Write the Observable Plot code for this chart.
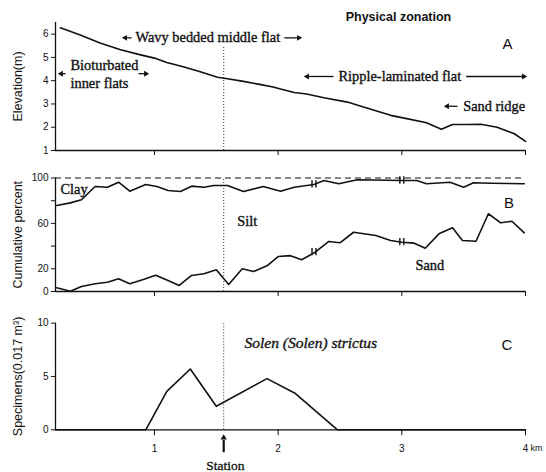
<!DOCTYPE html>
<html>
<head>
<meta charset="utf-8">
<script src="https://cdn.jsdelivr.net/npm/d3@7"></script>
<script src="https://cdn.jsdelivr.net/npm/@observablehq/plot@0.6"></script>
<style>
  body { margin: 0; background: #fff; }
  #fig { position: relative; width: 546px; height: 472px; overflow: hidden; background: #fff; }
  #fig svg { position: absolute; left: 0; }
</style>
</head>
<body>
<div id="fig"></div>
<script>
// Transect distance (km) and beach elevation (m)
const elevKm = [0.24, 0.40, 0.56, 0.72, 0.88, 1.00, 1.10, 1.24, 1.37, 1.51, 1.59, 1.72, 1.86, 1.96, 2.02,
                2.13, 2.23, 2.37, 2.56, 2.69, 2.91, 3.04, 3.20, 3.32, 3.41, 3.53, 3.64, 3.77, 3.91, 4.00];
const elevM  = [6.27, 5.96, 5.62, 5.34, 5.12, 4.97, 4.78, 4.59, 4.38, 4.15, 4.08, 3.97, 3.83, 3.73, 3.64,
                3.49, 3.43, 3.27, 3.08, 2.87, 2.51, 2.37, 2.19, 1.91, 2.12, 2.12, 2.13, 2.00, 1.72, 1.39];

// Cumulative grain size: upper curve separates clay from silt
const clayKm  = [0.21, 0.32, 0.41, 0.52, 0.62, 0.71, 0.80, 0.93, 1.02, 1.11, 1.21, 1.30, 1.40, 1.48, 1.59, 1.72,
                 1.88, 2.02, 2.13, 2.29, 2.37, 2.49, 2.64, 3.00, 3.12, 3.20, 3.39, 3.50, 3.58, 3.72, 3.99];
const clayPct = [75.8, 78.1, 80.8, 92.5, 91.9, 96.3, 88.4, 94.3, 92.5, 89.0, 88.1, 92.8, 91.9, 93.4, 93.4, 88.1,
                 92.5, 88.4, 91.9, 94.3, 97.8, 94.9, 98.4, 97.8, 97.8, 94.9, 96.3, 91.9, 95.8, 95.4, 94.9];

// lower curve separates silt from sand
const sandKm  = [0.21, 0.32, 0.41, 0.52, 0.62, 0.71, 0.80, 0.91, 1.01, 1.11, 1.20, 1.30, 1.40, 1.50, 1.60, 1.71,
                 1.80, 1.91, 2.00, 2.10, 2.19, 2.30, 2.41, 2.50, 2.61, 2.79, 2.91, 3.00, 3.10, 3.19, 3.30, 3.41,
                 3.49, 3.60, 3.70, 3.80, 3.89, 3.99];
const sandPct = [3.3, 0.3, 4.4, 6.8, 8.2, 11.2, 6.8, 10.6, 14.4, 9.7, 5.3, 14.1, 15.6, 19.1, 6.2, 20.0,
                 17.6, 22.6, 30.8, 31.6, 28.0, 34.6, 44.1, 42.9, 52.2, 49.3, 44.9, 43.4, 42.6, 38.1, 50.8, 56.1,
                 44.9, 44.3, 68.5, 60.5, 61.9, 51.7];

// Sampling breaks marked on both grain-size curves
const breakKm    = [2.29, 3.00];
const breakUpper = [94.3, 97.8];
const breakLower = [34.6, 43.4];

// Solen (Solen) strictus, specimens per 0.017 m2
const solenKm = [0.20, 0.93, 1.10, 1.29, 1.50, 1.91, 2.14, 2.48, 4.00];
const solenN  = [0, 0, 3.6, 5.7, 2.2, 4.8, 3.4, 0, 0];

const stationKm = 1.56;

// Tick values
const xTicks = [1, 2, 3, 4];
const elevTicks = [1, 2, 3, 4, 5, 6];
const pctTicks = [0, 20, 40, 60, 80, 100];
const pctLabels = [0, 20, 60, 100];
const specTicks = [0, 5, 10];

const W = 546, ML = 55, MR = 21;
const X0 = 0.2, X1 = 4;
const serif = "Liberation Serif, DejaVu Serif, serif";
const sans = "Liberation Sans, Arial, sans-serif";
const baseStyle = {fontFamily: sans, fontSize: "10px", background: "transparent", overflow: "visible", color: "#111"};
const ink = "#111";
const serifText = {fontFamily: serif, fontSize: 14.4, fill: ink, stroke: ink, strokeWidth: 0.35};

const rows = (xs, ys) => xs.map((x, i) => ({x, y: ys[i]}));

// horizontal arrows: stem from `from` to `tip`, filled head at the tip
function arrows(list) {
  return [
    Plot.link(list, {x1: "from", x2: d => d.tip - Math.sign(d.tip - d.from) * 0.03, y1: "y", y2: "y", stroke: ink, strokeWidth: 1.3}),
    Plot.dot(list, {x: d => d.tip - Math.sign(d.tip - d.from) * 0.03, y: "y", symbol: "triangle2", r: 2.8,
                    rotate: d => d.tip > d.from ? 90 : -90, fill: ink, stroke: "none"})
  ];
}

// rotated y-axis title, centred on the left edge of the frame
const yTitle = (t) => Plot.text([t], {frameAnchor: "left", textAnchor: "middle", dx: -38, rotate: -90,
                                      fontFamily: sans, fontSize: 12.5, fill: ink});

const fig = document.getElementById("fig");
function place(svg, top) { svg.style.top = top + "px"; fig.appendChild(svg); }

// ---- A: physical zonation / elevation profile
const plotA = Plot.plot({
  width: W, height: 160, marginLeft: ML, marginRight: MR, marginTop: 22, marginBottom: 10,
  style: baseStyle,
  x: {domain: [X0, X1], ticks: xTicks, tickFormat: () => "", tickSize: 5, label: null},
  y: {domain: [1, 6.5], ticks: elevTicks, tickFormat: d => d, tickSize: 4, tickPadding: 3, label: null},
  marks: [
    Plot.ruleY([1], {stroke: ink, strokeWidth: 1.3}),
    Plot.ruleX([X0], {y1: 1, y2: 6.5, stroke: ink, strokeWidth: 1.3}),
    Plot.ruleX([stationKm], {y1: 1, y2: 5.48, stroke: "#333", strokeDasharray: "1,2"}),
    Plot.line(rows(elevKm, elevM), {x: "x", y: "y", stroke: ink, strokeWidth: 1.6}),
    yTitle("Elevation(m)"),
    Plot.text(["Physical zonation"], {x: 2.973, y: 6.72, fontFamily: sans, fontWeight: "bold", fontSize: 12.5, fill: ink}),
    Plot.text(["A"], {x: 3.855, y: 5.58, fontFamily: sans, fontSize: 15, fill: ink}),
    Plot.text(["Wavy bedded middle flat"], {x: 0.847, y: 5.84, textAnchor: "start", ...serifText}),
    Plot.text(["Bioturbated"], {x: 0.321, y: 4.65, textAnchor: "start", ...serifText}),
    Plot.text(["inner flats"], {x: 0.321, y: 3.87, textAnchor: "start", ...serifText}),
    Plot.text(["Ripple-laminated flat"], {x: 2.488, y: 4.18, textAnchor: "start", ...serifText}),
    Plot.text(["Sand ridge"], {x: 3.496, y: 2.90, textAnchor: "start", ...serifText}),
    ...arrows([
      {from: 0.815, tip: 0.734, y: 5.84},
      {from: 2.050, tip: 2.197, y: 5.84},
      {from: 0.281, tip: 0.216, y: 4.30},
      {from: 0.871, tip: 0.960, y: 4.30},
      {from: 2.448, tip: 2.205, y: 4.18},
      {from: 3.520, tip: 4.016, y: 4.18},
      {from: 3.450, tip: 3.337, y: 2.90}
    ])
  ]
});
place(plotA, 0);

// ---- B: cumulative grain size
const plotB = Plot.plot({
  width: W, height: 140, marginLeft: ML, marginRight: MR, marginTop: 17.5, marginBottom: 9,
  style: baseStyle,
  x: {domain: [X0, X1], ticks: xTicks, tickFormat: () => "", tickSize: 5, label: null},
  y: {domain: [0, 100], ticks: pctTicks, tickFormat: d => pctLabels.includes(d) ? d : "", tickSize: 4, tickPadding: 3, label: null},
  marks: [
    Plot.ruleY([0], {stroke: ink, strokeWidth: 1.3}),
    Plot.ruleX([X0], {y1: 0, y2: 100, stroke: ink, strokeWidth: 1.3}),
    Plot.ruleY([100], {stroke: ink, strokeWidth: 1.2, strokeDasharray: "6,4"}),
    Plot.ruleX([stationKm], {y1: 0, y2: 100, stroke: "#333", strokeDasharray: "1,2"}),
    Plot.line(rows(clayKm, clayPct), {x: "x", y: "y", stroke: ink, strokeWidth: 1.6}),
    Plot.line(rows(sandKm, sandPct), {x: "x", y: "y", stroke: ink, strokeWidth: 1.6}),
    Plot.ruleX(breakKm.flatMap((k, i) => [
      {x: k - 0.016, v: breakUpper[i]}, {x: k + 0.016, v: breakUpper[i]},
      {x: k - 0.016, v: breakLower[i]}, {x: k + 0.016, v: breakLower[i]}
    ]), {x: "x", y1: d => d.v - 3.2, y2: d => d.v + 3.2, stroke: ink, strokeWidth: 1.4}),
    yTitle("Cumulative percent"),
    Plot.text(["Clay"], {x: 0.24, y: 89.9, textAnchor: "start", ...serifText}),
    Plot.text(["Silt"], {x: 1.669, y: 61.9, textAnchor: "start", ...serifText}),
    Plot.text(["Sand"], {x: 3.11, y: 22.9, textAnchor: "start", ...serifText}),
    Plot.text(["B"], {x: 3.867, y: 78.1, fontFamily: sans, fontSize: 15, fill: ink})
  ]
});
place(plotB, 160);

// ---- C: Solen (Solen) strictus density
const plotC = Plot.plot({
  width: W, height: 172, marginLeft: ML, marginRight: MR, marginTop: 22.6, marginBottom: 42.7,
  style: baseStyle,
  x: {domain: [X0, X1], ticks: xTicks, tickFormat: d => d, tickSize: 6, tickPadding: 9, label: null},
  y: {domain: [0, 10], ticks: specTicks, tickFormat: d => d, tickSize: 4, tickPadding: 3, label: null},
  marks: [
    Plot.ruleY([0], {stroke: ink, strokeWidth: 1.3}),
    Plot.ruleX([X0], {y1: 0, y2: 10, stroke: ink, strokeWidth: 1.3}),
    Plot.ruleX([stationKm], {y1: 0, y2: 10, stroke: "#333", strokeDasharray: "1,2"}),
    Plot.line(rows(solenKm, solenN), {x: "x", y: "y", stroke: ink, strokeWidth: 1.6}),
    yTitle("Specimens(0.017 m³)"),
    Plot.text(["Solen (Solen) strictus"], {x: 1.728, y: 8.1, textAnchor: "start", fontStyle: "italic",
                                           ...serifText, fontSize: 15.5}),
    Plot.text(["C"], {x: 3.85, y: 7.9, fontFamily: sans, fontSize: 15, fill: ink}),
    Plot.text(["km"], {x: 4.04, y: -1.75, textAnchor: "start", fontFamily: sans, fontSize: 9, fill: ink}),
    Plot.link([stationKm], {x1: d => d, x2: d => d, y1: -2.1, y2: -0.95, stroke: ink, strokeWidth: 2.2}),
    Plot.dot([stationKm], {x: d => d, y: -0.75, symbol: "triangle2", r: 3, fill: ink, stroke: "none"}),
    Plot.text(["Station"], {x: 1.573, y: -3.35, fontFamily: serif, fontSize: 13.5, fill: ink, stroke: ink, strokeWidth: 0.3})
  ]
});
place(plotC, 300);
</script>
</body>
</html>
